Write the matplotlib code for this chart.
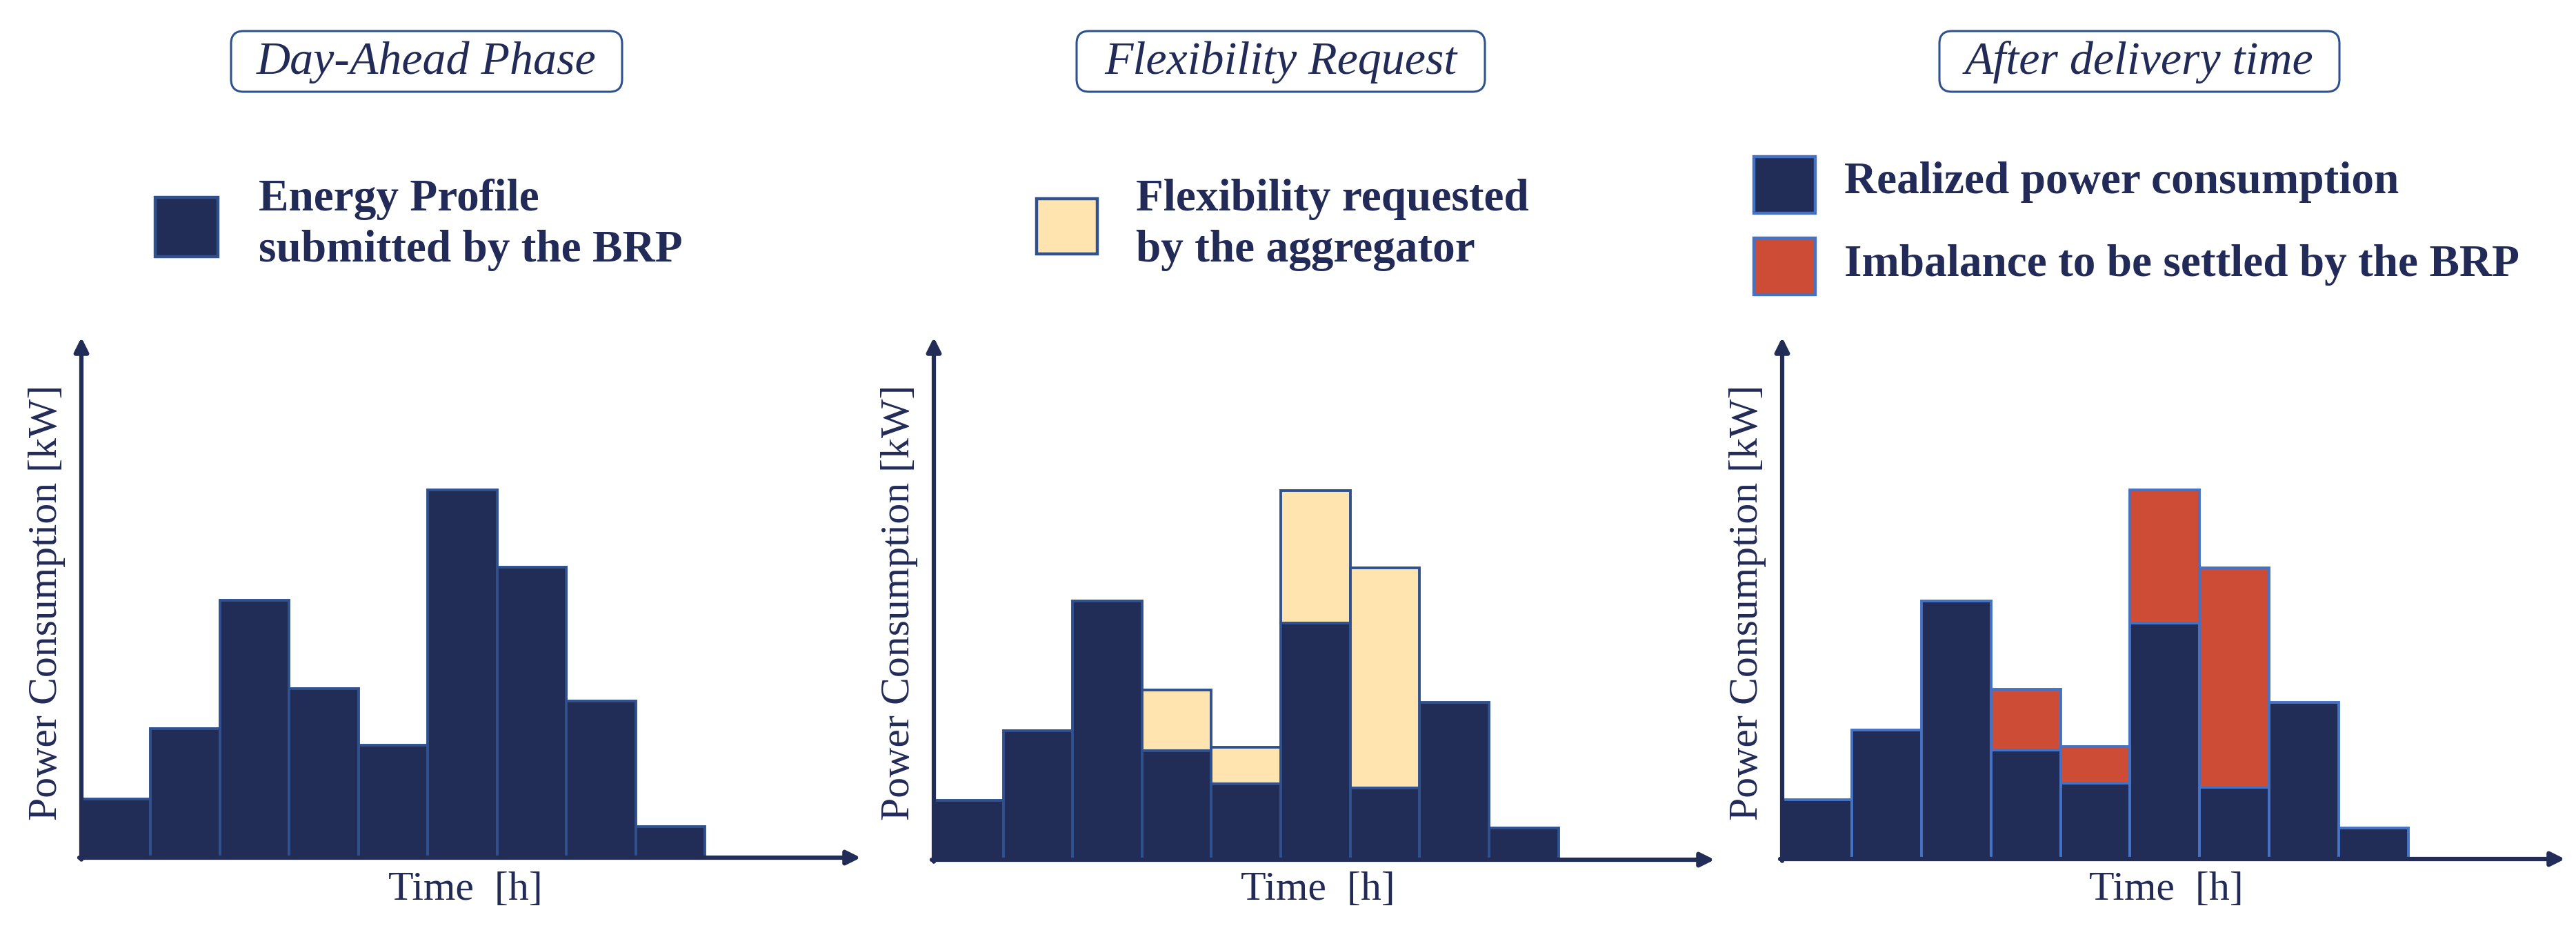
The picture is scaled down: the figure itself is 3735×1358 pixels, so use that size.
import numpy as np
import matplotlib
matplotlib.use("Agg")
import matplotlib.pyplot as plt
from matplotlib.patches import Rectangle, FancyBboxPatch

# values (arbitrary power units per time slot)
SLOTS = np.arange(9)
PROFILE = [1.6, 3.5, 7.0, 4.6, 3.05, 10.0, 7.9, 4.25, 0.85]    # day-ahead energy profile
REALIZED = [1.6, 3.5, 7.0, 2.95, 2.05, 6.4, 1.95, 4.25, 0.85]  # realized consumption

TITLES = ["Day-Ahead Phase", "Flexibility Request", "After delivery time"]
LEGENDS = [
    [("Energy Profile\nsubmitted by the BRP", "navy")],
    [("Flexibility requested\nby the aggregator", "flex")],
    [("Realized power consumption", "navy"), ("Imbalance to be settled by the BRP", "imb")],
]
YLAB = "Power Consumption [kW]"
XLAB = "Time  [h]"

NAVY = "#212D57"
FILL = {"navy": NAVY, "flex": "#FFE4AF", "imb": "#CD4C35"}
EDGES = ["#2F528F", "#2F528F", "#4472C4"]
TXT = "#222B57"
SERIF = ["Liberation Serif", "DejaVu Serif"]

W, H = 3735, 1358
fig = plt.figure(figsize=(W / 100, H / 100), dpi=100)


def fx(x): return x / W
def fy(y): return 1 - y / H


# pixel layout: (y axis x, x axis y, arrow tip x)
ORIG = [(118, 1243, 1248), (1354, 1246, 2486), (2584, 1245, 3719)]
TOP = 489
XMAX = 11.25
YMAX = (1244 - TOP) / 53.4

prof = np.array(PROFILE)
real = np.array(REALIZED)

for k, (x0, y0, x1) in enumerate(ORIG):
    ax = fig.add_axes([fx(x0), fy(y0), fx(x1) - fx(x0), (y0 - TOP) / H])
    ax.set_xlim(0, XMAX)
    ax.set_ylim(0, YMAX)
    ax.axis("off")
    ec = EDGES[k]
    if k == 0:
        ax.bar(SLOTS, prof, width=1, align="edge", color=NAVY, edgecolor=ec, linewidth=2.8)
    else:
        ax.bar(SLOTS, real, width=1, align="edge", color=NAVY, edgecolor=ec, linewidth=2.8)
        diff = prof - real
        m = diff > 0
        ax.bar(SLOTS[m], diff[m], bottom=real[m], width=1, align="edge",
               color=FILL["flex" if k == 1 else "imb"], edgecolor=ec, linewidth=2.8)
    arr = dict(arrowstyle="-|>", color=NAVY, lw=4.5, mutation_scale=30, shrinkA=0, shrinkB=0)
    ax.annotate("", xy=(XMAX, 0), xytext=(-0.03, 0), arrowprops=arr, annotation_clip=False)
    ax.annotate("", xy=(0, YMAX), xytext=(0, -0.05), arrowprops=arr, annotation_clip=False)

    fig.text(fx(x0 - 50), fy(873), YLAB, rotation=90, ha="center", va="center",
             fontsize=43, color=TXT, family=SERIF)
    fig.text(fx(x0 + 557), fy(1290), XLAB, ha="center", va="center",
             fontsize=43, color=TXT, family=SERIF)

# title boxes (left, right px)
TBOX = [(335, 902), (1561, 2153), (2812, 3392)]
for (l, r), t in zip(TBOX, TITLES):
    box = FancyBboxPatch((l / 100, (H - 133) / 100), (r - l) / 100, 0.88,
                         boxstyle="round,pad=0,rounding_size=0.18",
                         transform=fig.dpi_scale_trans, fc="white", ec="#2F528F", lw=2.2)
    fig.patches.append(box)
    fig.text(fx((l + r) / 2), fy(90), t, ha="center", va="center", fontsize=49,
             style="italic", color=TXT, family=SERIF)

# legends: square (left, top, size w, h), text x, text centre y
LEG_POS = [
    [(225, 286, 91, 86, 375, 326)],
    [(1503, 288, 88, 80, 1647, 326)],
    [(2543, 227, 89, 82, 2674, 264), (2543, 345, 89, 82, 2674, 384)],
]
for k, items in enumerate(LEGENDS):
    for (label, key), (sx, sy, sw, sh, tx, ty) in zip(items, LEG_POS[k]):
        fig.patches.append(Rectangle((fx(sx), fy(sy + sh)), sw / W, sh / H,
                                     transform=fig.transFigure, fc=FILL[key],
                                     ec=EDGES[k], lw=3.2))
        fig.text(fx(tx), fy(ty), label, ha="left", va="center", fontsize=47,
                 fontweight="bold", color=TXT, family=SERIF, linespacing=1.3)

fig.savefig("out.png", dpi=100, facecolor="white")
